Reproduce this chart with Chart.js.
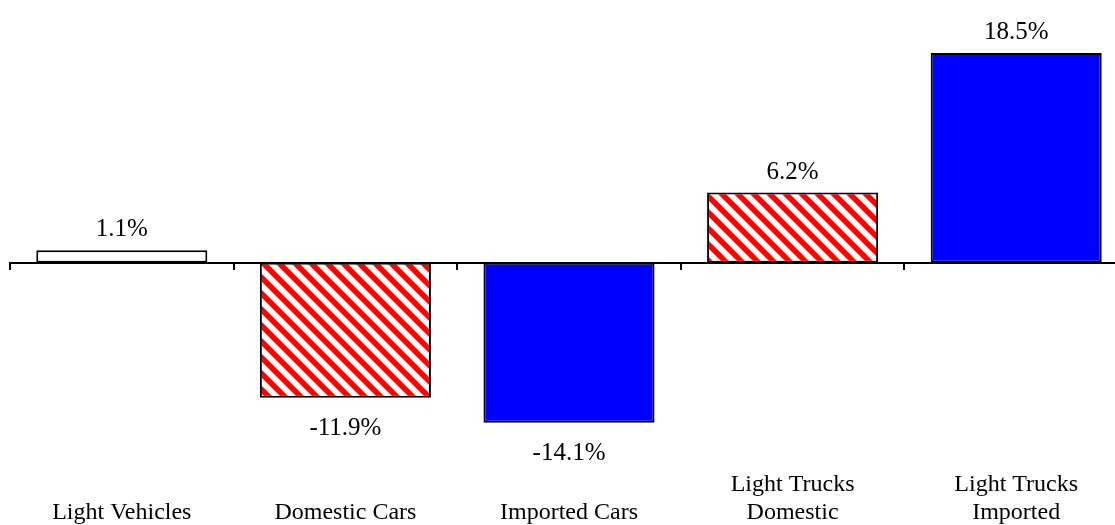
<!DOCTYPE html>
<html>
<head>
<meta charset="utf-8">
<script src="https://cdn.jsdelivr.net/npm/chart.js@4"></script>
<style>
  html, body { margin: 0; padding: 0; background: #ffffff; overflow: hidden; }
  #wrap { position: relative; width: 1140px; height: 525px; }
</style>
</head>
<body>
<div id="wrap"><canvas id="c"></canvas></div>
<script>
const categories = [
  ["", "Light Vehicles"],
  ["", "Domestic Cars"],
  ["", "Imported Cars"],
  ["Light Trucks", "Domestic"],
  ["Light Trucks", "Imported"]
];
const changePct = [1.1, -11.9, -14.1, 6.2, 18.5];
const yMin = -18;
const yMax = 20;

const canvas = document.getElementById('c');
const ctx = canvas.getContext('2d');

function makeStripes() {
  const s = 16;
  const t = document.createElement('canvas');
  t.width = s; t.height = s;
  const g = t.getContext('2d');
  g.fillStyle = '#ffffff';
  g.fillRect(0, 0, s, s);
  g.strokeStyle = '#ff0000';
  g.lineWidth = 5.5;
  g.lineCap = 'square';
  for (let k = -1; k <= 1; k++) {
    g.beginPath();
    g.moveTo(k * s - 4, -4);
    g.lineTo(k * s + s + 4, s + 4);
    g.stroke();
  }
  return ctx.createPattern(t, 'repeat');
}
const stripes = makeStripes();
const fills = ['#ffffff', stripes, '#0000ff', stripes, '#0000ff'];

const valueLabels = {
  id: 'valueLabels',
  afterDatasetsDraw(chart) {
    const c = chart.ctx;
    const meta = chart.getDatasetMeta(0);
    c.save();
    c.font = '25px "Liberation Serif", "Times New Roman", serif';
    c.fillStyle = '#000000';
    c.textAlign = 'center';
    c.textBaseline = 'alphabetic';
    meta.data.forEach((bar, i) => {
      const v = changePct[i];
      const txt = v.toFixed(1) + '%';
      const y = v >= 0 ? bar.y - 14 : bar.y + 37;
      c.fillText(txt, bar.x, y);
    });
    c.restore();
  }
};

new Chart(ctx, {
  type: 'bar',
  data: {
    labels: categories,
    datasets: [{
      data: changePct,
      backgroundColor: fills,
      borderColor: '#000000',
      borderWidth: 2,
      borderSkipped: false,
      categoryPercentage: 1.0,
      barPercentage: 0.765,
      xAxisID: 'x',
      yAxisID: 'y'
    }]
  },
  options: {
    responsive: true,
    maintainAspectRatio: false,
    animation: false,
    layout: { padding: { left: 10, right: 12, top: 36, bottom: 0 } },
    plugins: {
      legend: { display: false },
      tooltip: { enabled: false }
    },
    scales: {
      y: {
        display: false,
        min: yMin,
        max: yMax
      },
      x: {
        type: 'category',
        position: { y: 0 },
        offset: true,
        grid: {
          display: true,
          drawOnChartArea: false,
          drawTicks: true,
          tickLength: 6,
          color: '#000000',
          lineWidth: 2,
          offset: true
        },
        border: { display: true, color: '#000000', width: 2 },
        ticks: { display: false }
      },
      x2: {
        type: 'category',
        position: 'bottom',
        labels: categories,
        offset: true,
        grid: { display: false },
        border: { display: false },
        ticks: {
          autoSkip: false,
          maxRotation: 0,
          minRotation: 0,
          padding: -5,
          color: '#000000',
          font: { family: '"Liberation Serif", "Times New Roman", serif', size: 24, lineHeight: 1.2 }
        },
        afterFit(axis) { axis.height = 58; }
      }
    }
  },
  plugins: [valueLabels]
});
</script>
</body>
</html>
